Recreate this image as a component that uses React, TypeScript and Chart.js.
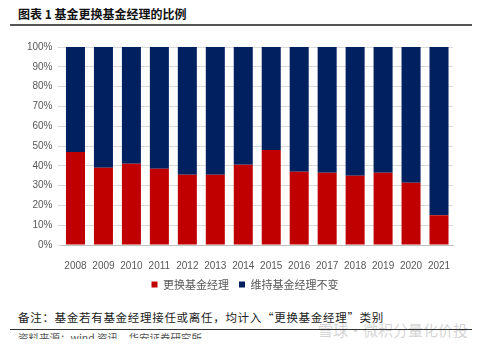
import React, { useEffect, useRef } from "react";
import { Chart, registerables } from "chart.js";

Chart.register(...registerables);

const categories = ["2008", "2009", "2010", "2011", "2012", "2013", "2014", "2015", "2016", "2017", "2018", "2019", "2020", "2021"];
const changedShare = [47, 39, 41, 38.5, 35.5, 35.5, 40.5, 48, 37, 36.5, 35, 36.5, 31.5, 15];
const keptShare = [53, 61, 59, 61.5, 64.5, 64.5, 59.5, 52, 63, 63.5, 65, 63.5, 68.5, 85];
const seriesNames = ["更换基金经理", "维持基金经理不变"];
const yTickValues = [0, 10, 20, 30, 40, 50, 60, 70, 80, 90, 100];

const titleText = "图表 1 基金更换基金经理的比例";
const noteText = "备注：基金若有基金经理接任或离任，均计入“更换基金经理”类别";
const sourceText = "资料来源：wind 资讯，华安证券研究所";
const watermarkText = "雪球·微积分量化价投";

const CJK = '"Noto Sans CJK SC", "Noto Sans", sans-serif';
const LATIN = '"Liberation Sans", Arial, sans-serif';

export default function App() {
  const ref = useRef<HTMLCanvasElement | null>(null);

  useEffect(() => {
    if (!ref.current) return;
    const chart = new Chart(ref.current, {
      type: "bar",
      data: {
        labels: categories,
        datasets: [
          { label: seriesNames[0], data: changedShare, backgroundColor: "#C00000", borderWidth: 0 },
          { label: seriesNames[1], data: keptShare, backgroundColor: "#002060", borderWidth: 0 },
        ],
      },
      options: {
        responsive: false,
        animation: false,
        layout: { padding: { top: 47, left: 10, right: 0, bottom: 0 } },
        datasets: { bar: { categoryPercentage: 1, barPercentage: 0.68 } },
        plugins: {
          legend: {
            position: "bottom",
            labels: {
              boxWidth: 6,
              boxHeight: 6,
              padding: 10,
              color: "#595959",
              font: { family: CJK, size: 11 },
            },
          },
          tooltip: { enabled: false },
        },
        scales: {
          x: {
            stacked: true,
            grid: { display: false },
            border: { display: true, color: "#BFBFBF", width: 1 },
            ticks: { color: "#595959", font: { family: LATIN, size: 10 }, padding: 7, maxRotation: 0 },
            afterFit: (s: any) => { s.height = 24; },
          },
          y: {
            stacked: true,
            min: 0,
            max: 100,
            afterBuildTicks: (s: any) => { s.ticks = yTickValues.map((v) => ({ value: v })); },
            grid: { color: "#D9D9D9", tickLength: 4, drawTicks: true },
            border: { display: false },
            ticks: {
              color: "#595959",
              font: { family: LATIN, size: 10 },
              padding: 5,
              callback: (v: any) => v + "%",
            },
            afterFit: (s: any) => { s.width = 51.5; },
          },
          yRight: {
            type: "linear",
            position: "right",
            min: 0,
            max: 100,
            grid: { display: false },
            border: { display: false },
            ticks: { display: false },
            afterFit: (s: any) => { s.width = 27; },
          },
        },
      },
    });
    return () => chart.destroy();
  }, []);

  return (
    <div style={{ position: "relative", width: 480, height: 347, margin: -8, background: "#fff", overflow: "hidden" }}>
      <div style={{ position: "absolute", left: 18, top: 5, fontFamily: CJK, fontWeight: 700, fontSize: 12, color: "#111", whiteSpace: "nowrap", lineHeight: "18px" }}>
        {titleText}
      </div>
      <div style={{ position: "absolute", left: 10, top: 24, width: 470, height: 2, background: "#555" }} />
      <canvas ref={ref} width={480} height={300} style={{ position: "absolute", left: 0, top: 0 }} />
      <div style={{ position: "absolute", left: 18, top: 308.5, fontFamily: CJK, fontSize: 11.5, letterSpacing: 0.7, color: "#222", whiteSpace: "nowrap", lineHeight: "16px" }}>
        {noteText}
      </div>
      <div style={{ position: "absolute", left: 318, top: 320, fontFamily: CJK, fontSize: 15, color: "rgba(170,170,170,0.5)", whiteSpace: "nowrap", lineHeight: "20px" }}>
        {watermarkText}
      </div>
      <div style={{ position: "absolute", left: 10, top: 328.5, width: 464, height: 1.5, background: "#333" }} />
      <div style={{ position: "absolute", left: 18, top: 332, fontFamily: CJK, fontSize: 10.5, color: "#555", whiteSpace: "nowrap", lineHeight: "12px" }}>
        {sourceText}
      </div>
      <div style={{ position: "absolute", left: 0, top: 344, width: 480, height: 3, background: "#EEEEEE" }} />
    </div>
  );
}
